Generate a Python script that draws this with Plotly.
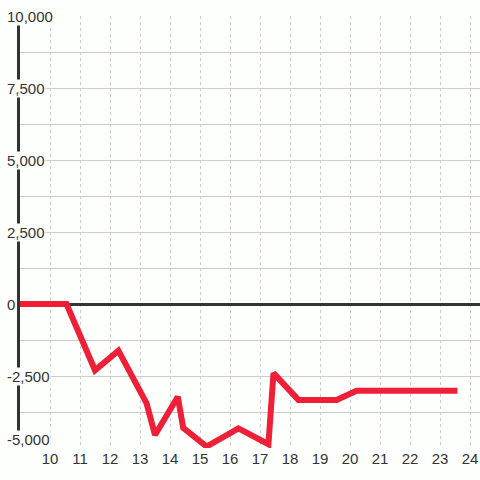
import plotly.graph_objects as go

# Data
x_vals = [9, 10.55, 11.5, 12.28, 13.22, 13.5, 14.26, 14.44, 15.22, 16.28, 17.28, 17.45, 18.28, 19.55, 20.22, 23.58]
y_vals = [0, 0, -2300, -1620, -3450, -4550, -3220, -4300, -4950, -4320, -4870, -2400, -3330, -3330, -3010, -3010]

x_ticks = list(range(10, 25))
y_label_vals = [10000, 7500, 5000, 2500, 0, -2500, -5000]
y_label_text = ["10,000", "7,500", "5,000", "2,500", "0", "-2,500", "-5,000"]

bg = "#fdfffd"
txt = "#333333"
font_family = "Liberation Sans, Arial, sans-serif"

fig = go.Figure()
fig.add_trace(go.Scatter(
    x=x_vals, y=y_vals, mode="lines",
    line=dict(color="#ee1f36", width=6),
    hoverinfo="skip", showlegend=False,
))

annotations = []
for v, t in zip(y_label_vals, y_label_text):
    bottom = v == min(y_label_vals)
    annotations.append(dict(
        xref="paper", yref="y", x=0, y=v, text=t,
        xanchor="left", yanchor="bottom" if bottom else "middle",
        xshift=-14, yshift=-1 if bottom else 0,
        showarrow=False, bgcolor=bg, borderpad=0,
        font=dict(family=font_family, size=15, color=txt),
    ))

fig.update_layout(
    width=480, height=480,
    margin=dict(l=20, r=0, t=16, b=32),
    paper_bgcolor=bg, plot_bgcolor=bg,
    showlegend=False,
    annotations=annotations,
    xaxis=dict(
        range=[9, 24.333], tickvals=x_ticks, ticktext=[str(v) for v in x_ticks],
        showgrid=True, gridcolor="#cccccc", gridwidth=1, griddash="3px,3px",
        zeroline=False, showline=False, ticks="",
        tickfont=dict(family=font_family, size=15, color=txt),
    ),
    yaxis=dict(
        range=[-5000, 10000], dtick=1250, tick0=0,
        showgrid=True, gridcolor="#cccccc", gridwidth=1,
        zeroline=True, zerolinecolor="#333333", zerolinewidth=3,
        showline=True, linecolor="#333333", linewidth=3,
        showticklabels=False, ticks="",
    ),
)

fig.write_html(
    "out.html",
    config={"displayModeBar": False, "staticPlot": True},
    post_script="document.body.style.margin='0';document.body.style.padding='0';document.body.style.background='%s';" % bg,
)
